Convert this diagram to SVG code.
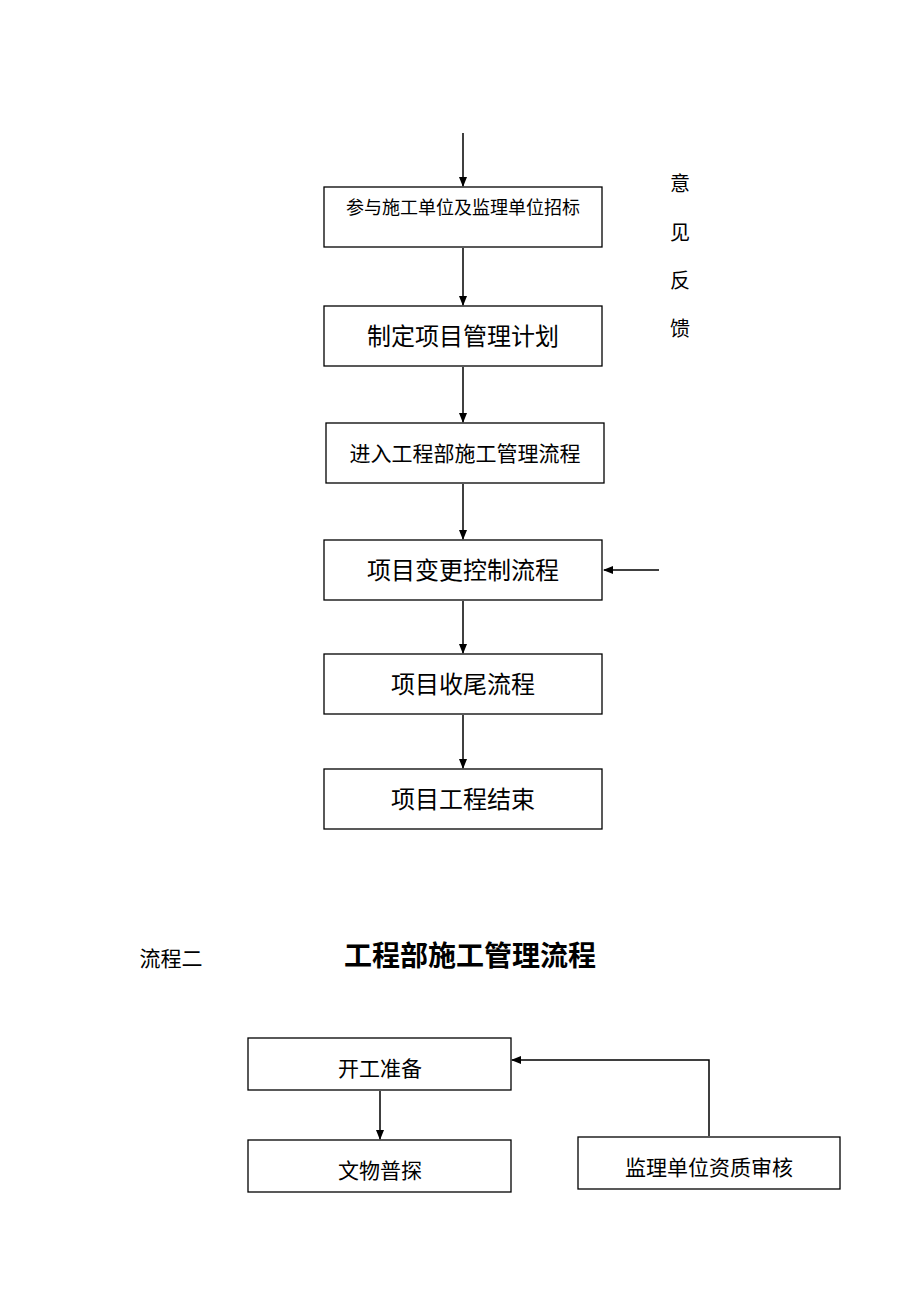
<svg xmlns="http://www.w3.org/2000/svg" width="920" height="1302" viewBox="0 0 920 1302">
<defs>
<style>
.box{fill:#fff;stroke:#000;stroke-width:1.3}
.t{font-family:"Noto Sans CJK SC","Liberation Sans",sans-serif;fill:#000;text-anchor:middle}
.ln{stroke:#000;stroke-width:1.5;fill:none}
</style>
<marker id="ah" markerWidth="10" markerHeight="10" refX="9" refY="5" orient="auto" markerUnits="userSpaceOnUse">
<path d="M0,1 L10,5 L0,9 Z" fill="#000"/>
</marker>
</defs>
<rect width="920" height="1302" fill="#fff"/>
<g id="connectors">
<line class="ln" x1="463" y1="133" x2="463" y2="186" marker-end="url(#ah)"/>
<line class="ln" x1="463" y1="248" x2="463" y2="305" marker-end="url(#ah)"/>
<line class="ln" x1="463" y1="367" x2="463" y2="422" marker-end="url(#ah)"/>
<line class="ln" x1="463" y1="484" x2="463" y2="539" marker-end="url(#ah)"/>
<line class="ln" x1="463" y1="601" x2="463" y2="653" marker-end="url(#ah)"/>
<line class="ln" x1="463" y1="715" x2="463" y2="768" marker-end="url(#ah)"/>
<line class="ln" x1="659" y1="570" x2="604" y2="570" marker-end="url(#ah)"/>
<line class="ln" x1="380" y1="1091" x2="380" y2="1139" marker-end="url(#ah)"/>
<polyline class="ln" points="709,1136 709,1060 512,1060" marker-end="url(#ah)"/>
</g>
<g id="n1"><rect class="box" x="324" y="187" width="278" height="60"/><text class="t" x="463" y="214" font-size="18">参与施工单位及监理单位招标</text></g>
<g id="n2"><rect class="box" x="324" y="306" width="278" height="60"/><text class="t" x="463" y="345" font-size="24">制定项目管理计划</text></g>
<g id="n3"><rect class="box" x="326" y="423" width="278" height="60"/><text class="t" x="465" y="461" font-size="21">进入工程部施工管理流程</text></g>
<g id="n4"><rect class="box" x="324" y="540" width="278" height="60"/><text class="t" x="463" y="579" font-size="24">项目变更控制流程</text></g>
<g id="n5"><rect class="box" x="324" y="654" width="278" height="60"/><text class="t" x="463" y="693" font-size="24">项目收尾流程</text></g>
<g id="n6"><rect class="box" x="324" y="769" width="278" height="60"/><text class="t" x="463" y="808" font-size="24">项目工程结束</text></g>
<g id="feedback">
<text class="t" x="680" y="191" font-size="20">意</text>
<text class="t" x="680" y="240" font-size="20">见</text>
<text class="t" x="680" y="288" font-size="20">反</text>
<text class="t" x="680" y="336" font-size="20">馈</text>
</g>
<g id="heading">
<text class="t" x="171" y="966" font-size="21">流程二</text>
<text class="t" x="470" y="966" font-size="28" font-weight="bold">工程部施工管理流程</text>
</g>
<g id="a"><rect class="box" x="248" y="1038" width="263" height="52"/><text class="t" x="380" y="1076" font-size="21">开工准备</text></g>
<g id="b"><rect class="box" x="248" y="1140" width="263" height="52"/><text class="t" x="380" y="1178" font-size="21">文物普探</text></g>
<g id="c"><rect class="box" x="578" y="1137" width="262" height="52"/><text class="t" x="709" y="1175" font-size="21">监理单位资质审核</text></g>
</svg>
